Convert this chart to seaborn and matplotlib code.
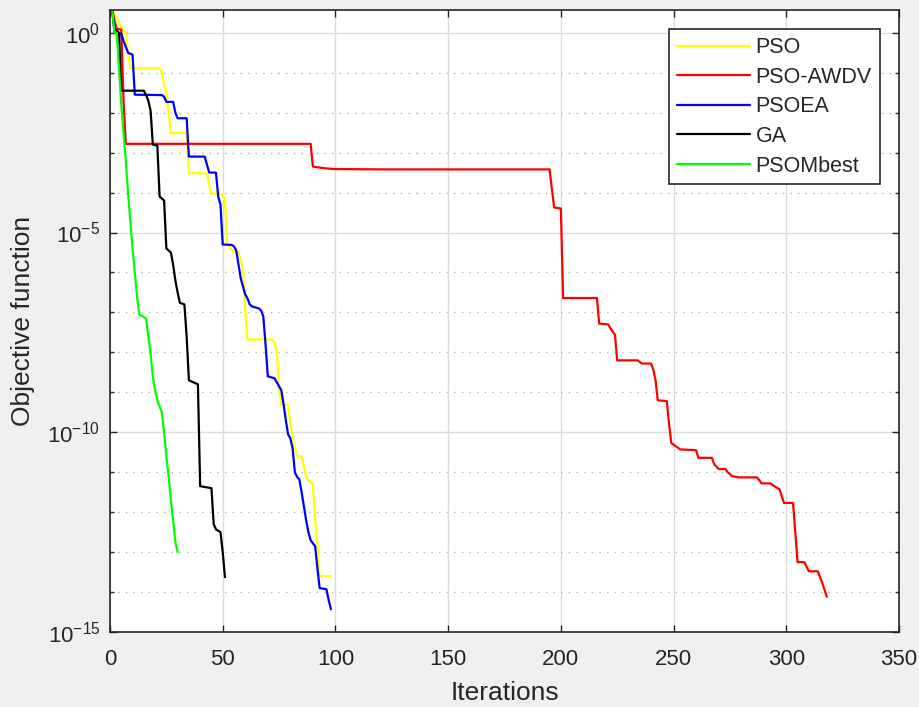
import numpy as np
import pandas as pd
import matplotlib
matplotlib.use("Agg")
import matplotlib.pyplot as plt
from matplotlib.ticker import FixedLocator, NullFormatter
import seaborn as sns

# Convergence histories: iteration numbers and log10 of the best objective value
pso_iter = [1, 2, 3, 4, 5, 6, 7, 8, 9, 22, 23, 24, 25, 26, 27, 34, 35, 43, 44, 45,
            50, 51, 52, 53, 54, 57, 58, 59, 60, 61, 72, 73, 74, 75, 76, 79, 80, 81,
            82, 83, 85, 86, 87, 88, 89, 90, 91, 92, 93, 98]
pso_log = [0.57, 0.45, 0.35, 0.25, 0.15, 0.05, 0.0, -0.5, -0.89, -0.89, -1.0, -1.3,
           -1.5, -2.0, -2.51, -2.51, -3.51, -3.52, -3.8, -4.02, -4.05, -4.2, -5.3,
           -5.35, -5.45, -5.5, -5.7, -5.93, -7.0, -7.68, -7.68, -7.75, -8.0, -8.9,
           -9.31, -9.31, -9.8, -10.1, -10.4, -10.6, -10.6, -10.85, -11.15, -11.2,
           -11.25, -11.3, -12.2, -12.8, -13.6, -13.6]

awdv_iter = [1, 2, 3, 5, 6, 7, 89, 90, 95, 99, 120, 195, 196, 197, 200, 201, 216, 217,
             221, 222, 224, 225, 234, 236, 240, 241, 242, 243, 247, 248, 249, 251, 253,
             260, 261, 267, 268, 270, 273, 274, 276, 279, 287, 288, 289, 293, 295, 297,
             298, 299, 303, 304, 305, 308, 310, 314, 316, 318]
awdv_log = [0.57, 0.3, 0.1, 0.08, -1.7, -2.78, -2.78, -3.35, -3.39, -3.41, -3.42, -3.42,
            -3.9, -4.37, -4.4, -6.64, -6.64, -7.28, -7.3, -7.4, -7.56, -8.2, -8.2, -8.28,
            -8.28, -8.43, -8.7, -9.2, -9.22, -9.8, -10.27, -10.35, -10.43, -10.45, -10.64,
            -10.64, -10.8, -10.92, -10.92, -11.0, -11.1, -11.13, -11.13, -11.2, -11.28,
            -11.28, -11.36, -11.43, -11.6, -11.77, -11.77, -12.5, -13.25, -13.25, -13.48,
            -13.48, -13.78, -14.12]

psoea_iter = [1, 2, 5, 6, 7, 8, 10, 11, 23, 24, 25, 28, 29, 30, 34, 35, 42, 43, 44, 47,
              48, 49, 50, 54, 55, 56, 57, 58, 59, 60, 61, 62, 63, 66, 67, 68, 69, 70, 73,
              74, 75, 76, 77, 78, 79, 80, 81, 82, 83, 84, 85, 86, 87, 88, 89, 90, 91, 92,
              93, 96, 97, 98]
psoea_log = [0.57, 0.0, -0.02, -0.2, -0.35, -0.5, -0.55, -1.55, -1.56, -1.6, -1.73, -1.73,
             -2.0, -2.14, -2.14, -3.1, -3.1, -3.3, -3.5, -3.5, -4.1, -4.3, -5.3, -5.31,
             -5.35, -5.45, -5.8, -6.15, -6.35, -6.55, -6.65, -6.8, -6.85, -6.9, -6.95,
             -7.1, -7.8, -8.6, -8.65, -8.75, -8.85, -8.95, -9.3, -9.7, -10.05, -10.15,
             -10.4, -11.0, -11.12, -11.18, -11.5, -11.85, -12.2, -12.5, -12.7, -12.78,
             -12.85, -13.4, -13.9, -13.93, -14.2, -14.43]

ga_iter = [1, 2, 4, 5, 15, 16, 17, 18, 19, 21, 22, 24, 25, 27, 28, 29, 30, 31, 33, 34,
           35, 39, 40, 45, 46, 47, 49, 50, 51]
ga_log = [0.57, 0.1, 0.0, -1.45, -1.45, -1.56, -1.7, -1.95, -2.8, -2.82, -4.1, -4.2,
          -5.4, -5.5, -5.8, -6.2, -6.5, -6.76, -6.8, -7.6, -8.7, -8.8, -11.35, -11.4,
          -12.3, -12.43, -12.5, -13.0, -13.63]

mbest_iter = [1, 2, 3, 4, 5, 6, 7, 8, 9, 10, 11, 12, 13, 16, 17, 18, 19, 20, 21, 22, 23,
              24, 25, 26, 27, 28, 29, 30]
mbest_log = [0.57, 0.0, 0.0, -0.9, -1.8, -2.5, -3.2, -4.0, -4.7, -5.4, -6.0, -6.6, -7.05,
             -7.15, -7.6, -8.05, -8.6, -8.95, -9.2, -9.35, -9.5, -10.0, -10.6, -11.1,
             -11.7, -12.2, -12.75, -13.0]

names = ["PSO", "PSO-AWDV", "PSOEA", "GA", "PSOMbest"]
colors = ["#ffff00", "#ff0000", "#0000ff", "#000000", "#00ff00"]
x_ticks = [0, 50, 100, 150, 200, 250, 300, 350]
y_exponents = [-15, -10, -5, 0]

histories = [(pso_iter, pso_log), (awdv_iter, awdv_log), (psoea_iter, psoea_log),
             (ga_iter, ga_log), (mbest_iter, mbest_log)]
df = pd.concat(
    [pd.DataFrame({"Iterations": it, "Objective": np.power(10.0, lg), "Algorithm": nm})
     for nm, (it, lg) in zip(names, histories)],
    ignore_index=True,
)

sns.set_style("ticks")
plt.rcParams["font.family"] = ["Liberation Sans", "DejaVu Sans"]
plt.rcParams["mathtext.fontset"] = "custom"
plt.rcParams["mathtext.rm"] = "Liberation Sans"
plt.rcParams["mathtext.it"] = "Liberation Sans:italic"
plt.rcParams["mathtext.bf"] = "Liberation Sans:bold"

dark = "#262626"
fig = plt.figure(figsize=(9.19, 7.07), dpi=100, facecolor="#f0f0f0")
ax = fig.add_axes([110 / 919, 1 - 632 / 707, 789 / 919, 622 / 707])
ax.set_facecolor("white")
ax.set_yscale("log")

sns.lineplot(data=df, x="Iterations", y="Objective", hue="Algorithm",
             hue_order=names, palette=colors, estimator=None, sort=False,
             linewidth=1.6, ax=ax)

ax.set_xlim(0, 350)
ax.set_ylim(1e-15, 10 ** 0.57)
ax.set_xticks(x_ticks)
ax.set_xticklabels([str(v) for v in x_ticks])
ax.set_yticks([10.0 ** e for e in y_exponents])
ax.set_yticklabels([r"$10^{%d}$" % e for e in y_exponents])
ax.yaxis.set_minor_locator(FixedLocator([10.0 ** k for k in range(-15, 1) if k % 5]))
ax.yaxis.set_minor_formatter(NullFormatter())

ax.grid(True, which="major", color="#dcdcdc", linewidth=1.0, linestyle="-")
ax.grid(True, which="minor", axis="y", color="#b4b4b4", linewidth=1.0,
        linestyle=(0, (1.0, 4.5)))
ax.set_axisbelow(True)

ax.tick_params(which="both", direction="in", top=True, right=True, colors=dark,
               width=1.0)
ax.tick_params(which="major", length=5)
ax.tick_params(which="minor", length=3)
ax.tick_params(axis="x", labelsize=16, pad=12)
ax.tick_params(axis="y", labelsize=16, pad=7)
for sp in ax.spines.values():
    sp.set_color(dark)
    sp.set_linewidth(1.2)

ax.set_xlabel("Iterations", fontsize=19, color=dark, labelpad=8)
ax.set_ylabel("Objective function", fontsize=19, color=dark, labelpad=9)

handles, labels = ax.get_legend_handles_labels()
leg = ax.legend(handles, labels, loc="upper right", fontsize=15.5, frameon=True,
                fancybox=False, edgecolor=dark, framealpha=1, handlelength=3.4,
                handletextpad=0.25, labelspacing=0.4, borderpad=0.36,
                borderaxespad=0.9)
leg.get_frame().set_linewidth(1.2)
for ln in leg.get_lines():
    ln.set_linewidth(1.6)

fig.savefig("out.png", dpi=100, facecolor=fig.get_facecolor())
